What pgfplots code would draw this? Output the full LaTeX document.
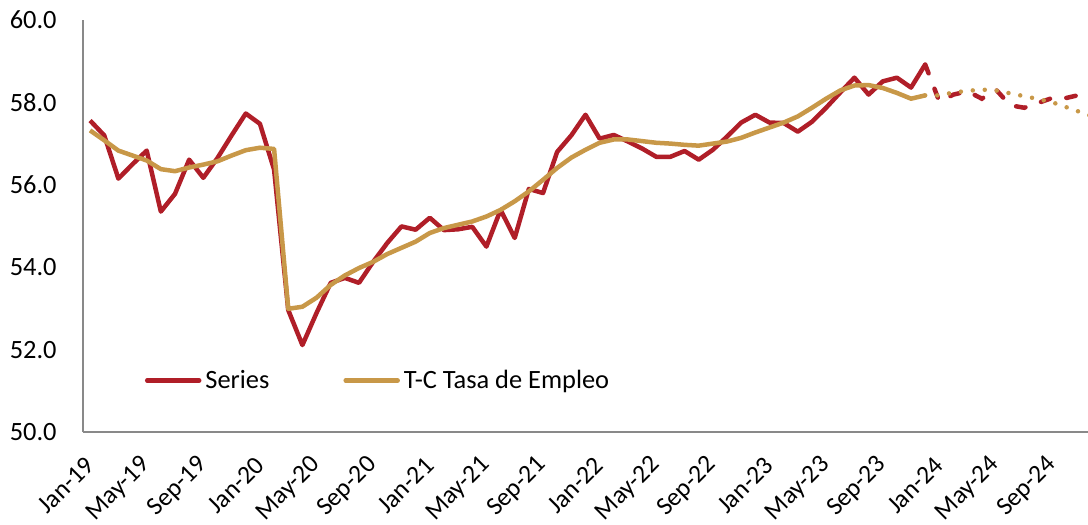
\documentclass[border=0pt]{standalone}
\usepackage{fontspec}
\setmainfont{Carlito}
\usepackage{pgfplots}
\usepackage{pgfplotstable}
\pgfplotsset{compat=1.18}
\definecolor{serred}{RGB}{176,30,40}
\definecolor{tcgold}{RGB}{200,152,72}
\definecolor{axgray}{RGB}{137,137,137}

\pgfplotstableread{
x y
0 57.56
1 57.20
2 56.15
3 56.50
4 56.83
5 55.35
6 55.78
7 56.61
8 56.17
9 56.65
10 57.20
11 57.73
12 57.48
13 56.37
14 52.96
15 52.11
16 52.89
17 53.62
18 53.74
19 53.62
20 54.13
21 54.59
22 54.99
23 54.91
24 55.20
25 54.90
26 54.92
27 54.98
28 54.50
29 55.39
30 54.71
31 55.90
32 55.80
33 56.80
34 57.20
35 57.70
36 57.12
37 57.21
38 57.05
39 56.88
40 56.68
41 56.68
42 56.82
43 56.61
44 56.85
45 57.17
46 57.51
47 57.70
48 57.51
49 57.50
50 57.29
51 57.53
52 57.87
53 58.24
54 58.60
55 58.19
56 58.51
57 58.60
58 58.36
59 58.92
}\serA

\pgfplotstableread{
x y
59 58.92
60 58.02
61 58.19
62 58.27
63 58.09
64 58.31
65 57.93
66 57.87
67 57.99
68 58.11
69 58.11
70 58.19
71 58.22
}\serB

\pgfplotstableread{
x y
0 57.32
1 57.08
2 56.83
3 56.71
4 56.59
5 56.38
6 56.33
7 56.42
8 56.49
9 56.57
10 56.71
11 56.84
12 56.90
13 56.87
14 52.99
15 53.04
16 53.26
17 53.57
18 53.80
19 53.98
20 54.13
21 54.32
22 54.47
23 54.62
24 54.83
25 54.95
26 55.03
27 55.11
28 55.23
29 55.39
30 55.60
31 55.84
32 56.12
33 56.41
34 56.66
35 56.85
36 57.02
37 57.10
38 57.10
39 57.06
40 57.02
41 57.00
42 56.97
43 56.95
44 57.00
45 57.05
46 57.14
47 57.27
48 57.39
49 57.51
50 57.66
51 57.87
52 58.09
53 58.29
54 58.41
55 58.42
56 58.35
57 58.23
58 58.09
59 58.17
}\tcA

\pgfplotstableread{
x y
59 58.17
60 58.17
61 58.24
62 58.28
63 58.31
64 58.29
65 58.22
66 58.15
67 58.08
68 58.00
69 57.88
70 57.76
71 57.64
}\tcB

\begin{document}
\begin{tikzpicture}
\path[use as bounding box] (-41.5pt,-46.5pt) rectangle (502.5pt,216pt);
\begin{axis}[
  at={(0pt,0pt)}, anchor=south west,
  scale only axis, width=502.5pt, height=206pt,
  xmin=-0.5, xmax=70.5, ymin=50, ymax=60,
  axis lines*=left,
  axis line style={draw=axgray, line width=0.9pt},
  xtick={0,4,...,68},
  xticklabels={Jan-19,May-19,Sep-19,Jan-20,May-20,Sep-20,Jan-21,May-21,Sep-21,Jan-22,May-22,Sep-22,Jan-23,May-23,Sep-23,Jan-24,May-24,Sep-24},
  ytick={50,52,...,60},
  yticklabel={\pgfmathprintnumber[fixed,fixed zerofill,precision=1,assume math mode=true]{\tick}},
  major tick length=0pt,
  tick label style={font=\fontsize{13.2}{15}\selectfont, text=black},
  yticklabel style={anchor=east, inner sep=0pt, xshift=-13pt},
  xticklabel style={rotate=45, anchor=east, inner sep=0pt, font=\fontsize{12.8}{15}\selectfont},
  xticklabel shift=14.5pt,
  no markers,
  legend style={at={(axis cs:3.85,51.25)}, anchor=west, draw=none, fill=none,
    inner sep=0pt, font=\fontsize{13.2}{15}\selectfont,
    legend columns=2, /tikz/every even column/.append style={column sep=35pt}},
  legend cell align=left,
  legend image code/.code={\draw[#1, line cap=round] (0pt,0pt) -- (26pt,0pt);},
]
\addplot[color=serred, line width=2.25pt, line join=round] table {\serA};
\addplot[color=tcgold, line width=2.25pt, line join=round] table {\tcA};
\addplot[color=serred, line width=2.25pt, line cap=round, dash pattern=on 4.75pt off 8.25pt, forget plot] table {\serB};
\addplot[color=tcgold, line width=2.25pt, line cap=round, dash pattern=on 0pt off 6pt, forget plot] table {\tcB};
\legend{Series, T-C Tasa de Empleo}
\end{axis}
\end{tikzpicture}
\end{document}
